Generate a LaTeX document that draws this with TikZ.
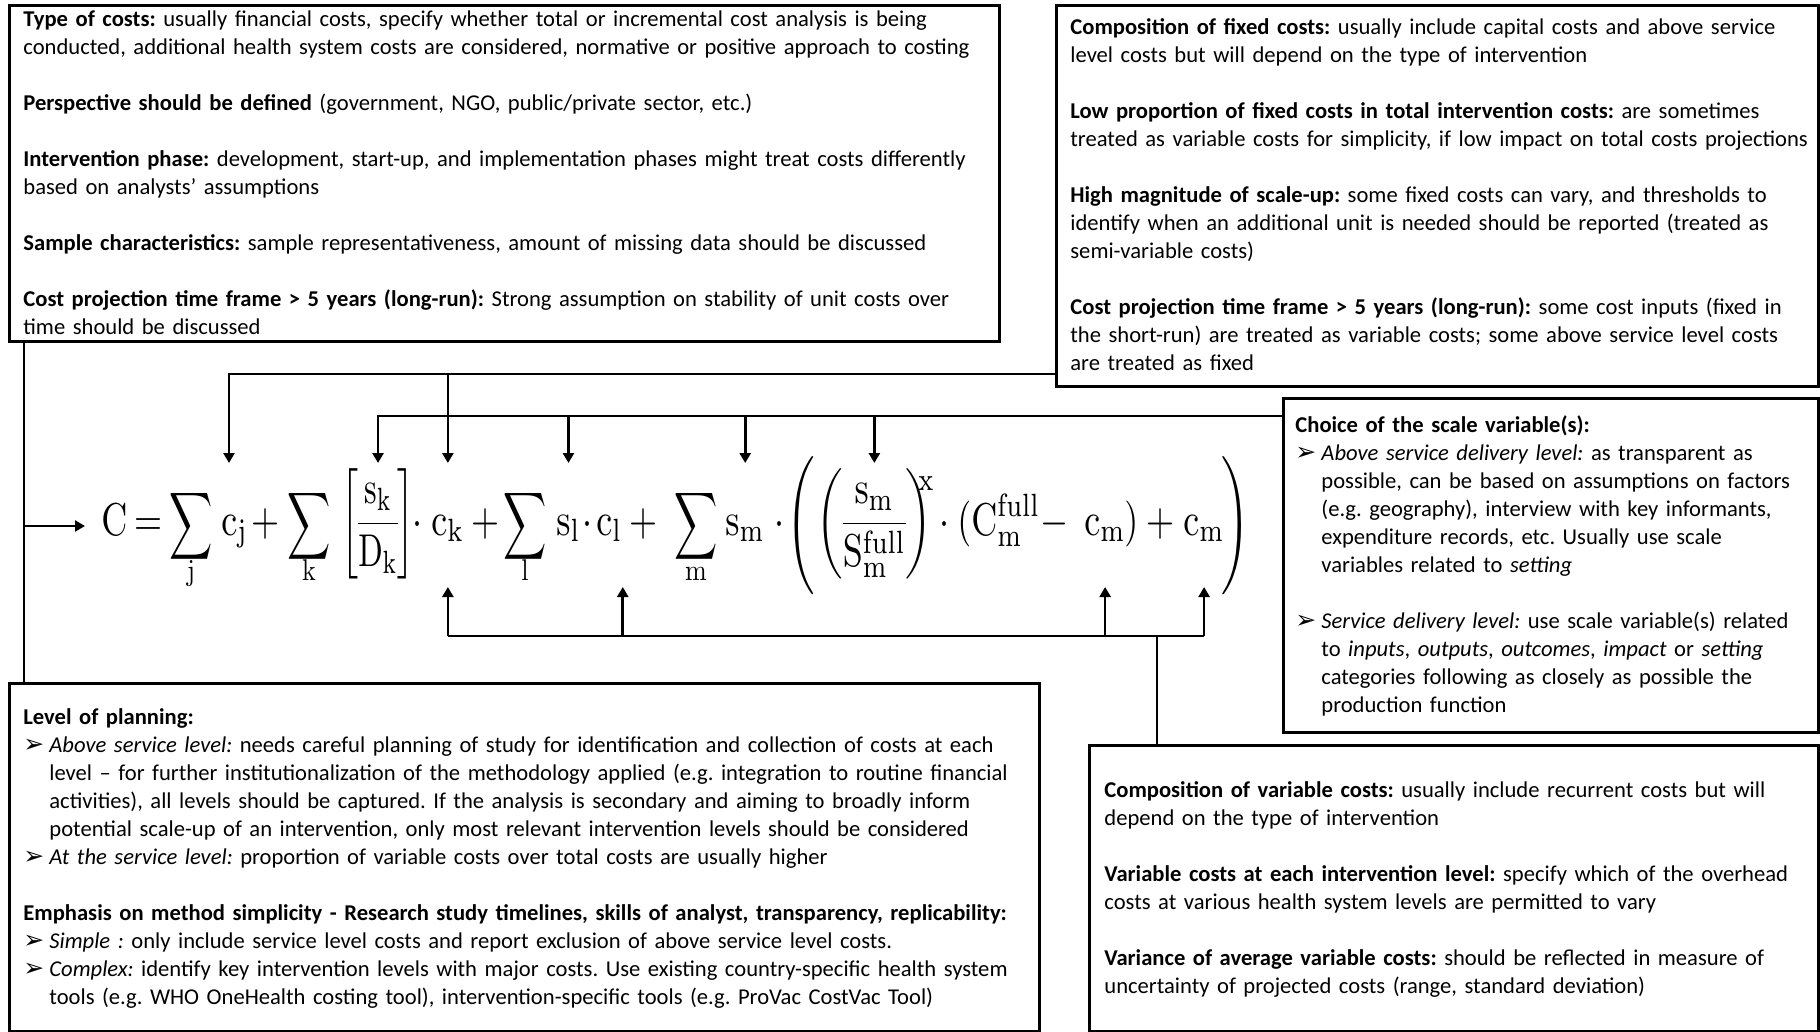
\documentclass[tikz,border=0pt]{standalone}
\usepackage[no-math]{fontspec}
\setmainfont{Carlito}
\newfontfamily\dejavu{DejaVu Sans}
\usepackage{graphicx}
\usetikzlibrary{arrows.meta}

% formula pieces: Computer Modern, condensed
\newcommand{\EQ}[1]{\scalebox{1.8}[2.3]{$\displaystyle #1$}}
\newcommand{\EQF}[2]{\scalebox{#1}[2.3]{$\displaystyle\nulldelimiterspace=0pt #2$}}
\newcommand{\BIGSUM}{\scalebox{1.5}[2.35]{$\displaystyle\sum$}}
\newcommand{\SUMSUB}[1]{\scalebox{1.3}[1.5]{$\mathrm{#1}$}}
\newcommand{\bul}{\makebox[13pt][l]{\fontsize{12.5}{14}\dejavu\char"27A2}}
\newcommand{\bulind}{\hspace*{13pt}}

\begin{document}
\begin{tikzpicture}[x=0.5pt,y=-0.5pt,
  box/.style={draw, line width=1.3pt, inner sep=0, anchor=north west},
  txt/.style={inner sep=0, anchor=base west, text width=#1, align=left,
              font=\fontsize{11.3}{14}\selectfont\frenchspacing},
  conn/.style={line width=1.3pt},
  arr/.style={conn, -{Triangle[length=5pt,width=5.5pt]}},
  eqp/.style={inner sep=0, anchor=base west},
  eqc/.style={inner sep=0, anchor=base},
  eqm/.style={inner sep=0, anchor=center}]

\fill[white] (0,0) rectangle (1820,1032);
\useasboundingbox (0,0) rectangle (1820,1032);

% ---------- boxes ----------
\node[box, minimum width=495pt, minimum height=168pt] (b1) at (8,4) {};
\node[box, minimum width=381pt, minimum height=190.5pt] (b2) at (1055,4) {};
\node[box, minimum width=267.5pt, minimum height=167pt] (b3) at (1282,397) {};
\node[box, minimum width=364.5pt, minimum height=143pt] (b4) at (1088,744) {};
\node[box, minimum width=515pt, minimum height=174pt] (b5) at (8,682) {};

% ---------- texts ----------
\node[txt=540pt] (t1) at (23,27) {%
\textbf{Type of costs:} usually financial costs, specify whether total or incremental cost analysis is being\\
conducted, additional health system costs are considered, normative or positive approach to costing\\[14pt]
\textbf{Perspective should be defined} (government, NGO, public/private sector, etc.)\\[14pt]
\textbf{Intervention phase:} development, start-up, and implementation phases might treat costs differently\\
based on analysts’ assumptions\\[14pt]
\textbf{Sample characteristics:} sample representativeness, amount of missing data should be discussed\\[14pt]
\textbf{Cost projection time frame > 5 years (long-run):} Strong assumption on stability of unit costs over\\
time should be discussed};

\node[txt=420pt] (t2) at (1070,35) {%
\textbf{Composition of fixed costs:} usually include capital costs and above service\\
level costs but will depend on the type of intervention\\[14pt]
\textbf{Low proportion of fixed costs in total intervention costs:} are sometimes\\
treated as variable costs for simplicity, if low impact on total costs projections\\[14pt]
\textbf{High magnitude of scale-up:} some fixed costs can vary, and thresholds to\\
identify when an additional unit is needed should be reported (treated as\\
semi-variable costs)\\[14pt]
\textbf{Cost projection time frame > 5 years (long-run):} some cost inputs (fixed in\\
the short-run) are treated as variable costs; some above service level costs\\
are treated as fixed};

\node[txt=300pt] (t3) at (1295,432) {%
\textbf{Choice of the scale variable(s):}\\
\bul\textit{Above service delivery level:} as transparent as\\
\bulind possible, can be based on assumptions on factors\\
\bulind (e.g. geography), interview with key informants,\\
\bulind expenditure records, etc. Usually use scale\\
\bulind variables related to \textit{setting}\\[14pt]
\bul\textit{Service delivery level:} use scale variable(s) related\\
\bulind to \textit{inputs}, \textit{outputs}, \textit{outcomes}, \textit{impact} or \textit{setting}\\
\bulind categories following as closely as possible the\\
\bulind production function};

\node[txt=400pt] (t4) at (1104,797) {%
\textbf{Composition of variable costs:} usually include recurrent costs but will\\
depend on the type of intervention\\[14pt]
\textbf{Variable costs at each intervention level:} specify which of the overhead\\
costs at various health system levels are permitted to vary\\[14pt]
\textbf{Variance of average variable costs:} should be reflected in measure of\\
uncertainty of projected costs (range, standard deviation)};

\node[txt=560pt] (t5) at (23,724) {%
\textbf{Level of planning:}\\
\bul\textit{Above service level:} needs careful planning of study for identification and collection of costs at each\\
\bulind level – for further institutionalization of the methodology applied (e.g. integration to routine financial\\
\bulind activities), all levels should be captured. If the analysis is secondary and aiming to broadly inform\\
\bulind potential scale-up of an intervention, only most relevant intervention levels should be considered\\
\bul\textit{At the service level:} proportion of variable costs over total costs are usually higher\\[14pt]
\textbf{Emphasis on method simplicity - Research study timelines, skills of analyst, transparency, replicability:}\\
\bul\textit{Simple :} only include service level costs and report exclusion of above service level costs.\\
\bul\textit{Complex:} identify key intervention levels with major costs. Use existing country-specific health system\\
\bulind tools (e.g. WHO OneHealth costing tool), intervention-specific tools (e.g. ProVac CostVac Tool)};

% ---------- formula ----------
\node[eqp] (eC) at (101,535) {\EQ{\mathrm{C}}};
\node[eqc] (eeq) at (148,535) {\EQ{=}};
\node[eqm] (esj) at (191,526) {\BIGSUM};
\node[eqc] (esjs) at (191,580) {\SUMSUB{j}};
\node[eqp] (ecj) at (221,535) {\EQ{\mathrm{c}_{\mathrm{j}}}};
\node[eqc] (ep1) at (265,535) {\EQ{+}};
\node[eqm] (esk) at (309,526) {\BIGSUM};
\node[eqc] (esks) at (309,580) {\SUMSUB{k}};
\node[eqp] (efk) at (341,535) {\EQF{1.6}{\left[\frac{\mathrm{s}_{\mathrm{k}}}{\mathrm{D}_{\mathrm{k}}}\right]}};
\node[eqc] (ed1) at (417,535) {\EQ{\cdot}};
\node[eqp] (eck) at (431,535) {\EQ{\mathrm{c}_{\mathrm{k}}}};
\node[eqc] (ep2) at (485,535) {\EQ{+}};
\node[eqm] (esl) at (525,526) {\BIGSUM};
\node[eqc] (esls) at (525,580) {\SUMSUB{l}};
\node[eqp] (eslv) at (556,535) {\EQ{\mathrm{s}_{\mathrm{l}}}};
\node[eqc] (ed2) at (587,535) {\EQ{\cdot}};
\node[eqp] (ecl) at (596,535) {\EQ{\mathrm{c}_{\mathrm{l}}}};
\node[eqc] (ep3) at (643,535) {\EQ{+}};
\node[eqm] (esm) at (696,526) {\BIGSUM};
\node[eqc] (esms) at (696,580) {\SUMSUB{m}};
\node[eqp] (esmv) at (725,535) {\EQ{\mathrm{s}_{\mathrm{m}}}};
\node[eqc] (ed3) at (779,535) {\EQ{\cdot}};
\node[eqm] (ebl) at (803,526) {\scalebox{1.8}[2.3]{$\left(\vcenter{\hbox{\vrule height 14pt depth 14pt width 0pt}}\right.$}};
\node[eqp] (efm) at (816,535) {\EQF{1.8}{\left(\frac{\mathrm{s}_{\mathrm{m}}}{\mathrm{S}_{\mathrm{m}}^{\mathrm{full}}}\right)}};
\node[eqp] (ex) at (918,490) {\scalebox{1.8}[2.3]{$\scriptstyle\mathrm{x}$}};
\node[eqc] (ed4) at (944,535) {\EQ{\cdot}};
\node[eqp] (eCf) at (957,535) {\EQ{(\mathrm{C}_{\mathrm{m}}^{\mathrm{full}}}};
\node[eqc] (emn) at (1054,535) {\EQ{-}};
\node[eqp] (ecm1) at (1084,535) {\EQ{\mathrm{c}_{\mathrm{m}}}};
\node[eqp] (erp) at (1124,535) {\EQ{)}};
\node[eqc] (ep4) at (1160,535) {\EQ{+}};
\node[eqp] (ecm2) at (1183,535) {\EQ{\mathrm{c}_{\mathrm{m}}}};
\node[eqm] (ebr) at (1234,526) {\scalebox{1.8}[2.3]{$\left.\vcenter{\hbox{\vrule height 14pt depth 14pt width 0pt}}\right)$}};

% ---------- connector levels ----------
\coordinate (yF) at (0,374);
\coordinate (yS) at (0,416);
\coordinate (yV) at (0,636);
\coordinate (yE) at (0,526);
\coordinate (topT) at (0,463);
\coordinate (botT) at (0,587);
\coordinate (xL) at (24,0);
\coordinate (xV) at (1157,0);
\coordinate (acj) at ([xshift=4pt]ecj.north west);

% fixed costs
\draw[arr] (b2.west |- yF) -| (acj |- topT);
\draw[arr] (eck.north |- yF) -- (eck.north |- topT);
% scale variables
\draw[arr] (b3.west |- yS) -| (efk.north |- topT);
\draw[arr] (eslv.north |- yS) -- (eslv.north |- topT);
\draw[arr] (esmv.north |- yS) -- (esmv.north |- topT);
\draw[arr] (efm.north |- yS) -- (efm.north |- topT);
% variable costs
\draw[conn] (xV |- b4.north) -- (xV |- yV);
\draw[conn] (eck.south |- yV) -- (ecm2.south |- yV);
\draw[arr] (eck.south |- yV) -- (eck.south |- botT);
\draw[arr] (ecl.south east |- yV) -- (ecl.south east |- botT);
\draw[arr] (ecm1.south |- yV) -- (ecm1.south |- botT);
\draw[arr] (ecm2.south |- yV) -- (ecm2.south |- botT);
% general considerations and planning
\draw[conn] (xL |- b1.south) -- (xL |- b5.north);
\draw[arr, shorten >=8pt] (xL |- yE) -- (eC.west |- yE);

\end{tikzpicture}
\end{document}
